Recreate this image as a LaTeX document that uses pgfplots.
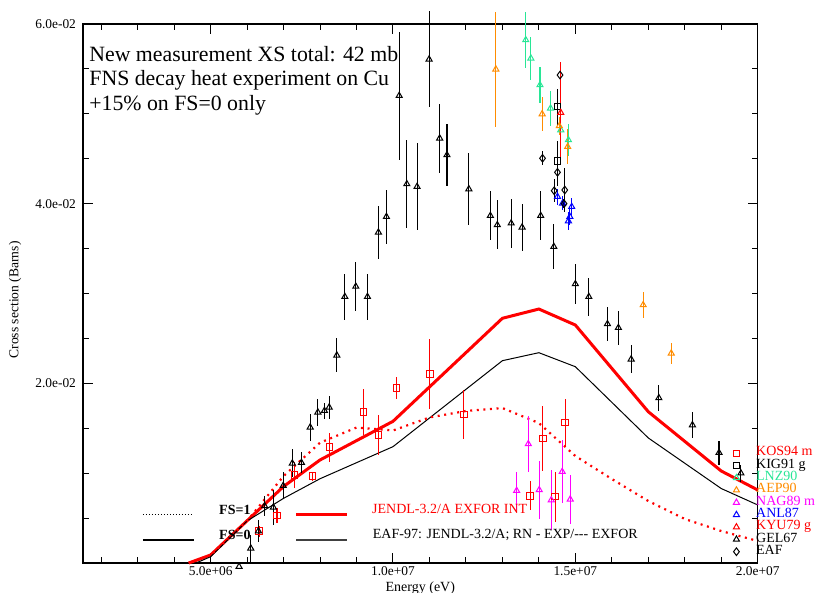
\documentclass[border=0pt]{standalone}
\usepackage{pgfplots}
\pgfplotsset{compat=1.18}
\usepackage{fontspec}
\setmainfont{Liberation Serif}
\definecolor{lnz}{RGB}{40,230,150}
\definecolor{aep}{RGB}{255,140,0}
\definecolor{nag}{RGB}{255,0,255}
\definecolor{anl}{RGB}{0,0,255}
\begin{document}
\begin{tikzpicture}
\pgfplotsset{
  legmark/.style={legend image code/.code={\draw[##1] plot coordinates {(0cm,0cm)}; \path (0.34cm,0cm);}},
  ebar/.style={error bars/.cd, y dir=both, y explicit, error mark=none, error bar style={line width=0.55pt}},
}
\begin{axis}[
  scale only axis, width=337.35pt, height=269.5pt,
  xmin=1.5e6, xmax=2e7, ymin=0, ymax=0.06,
  clip=false,
  axis line style={line width=0.6pt},
  tick align=inside, major tick length=5pt, minor tick length=3pt,
  every tick/.style={black, line width=0.5pt},
  xtick={5e6,1e7,1.5e7,2e7}, xticklabels={5.0e+06,1.0e+07,1.5e+07,2.0e+07},
  minor xtick={2e6,3e6,4e6,6e6,7e6,8e6,9e6,11e6,12e6,13e6,14e6,16e6,17e6,18e6,19e6},
  ytick={0.02,0.04,0.06}, yticklabels={2.0e-02,4.0e-02,6.0e-02},
  minor ytick={0.005,0.01,0.015,0.025,0.03,0.035,0.045,0.05,0.055},
  ticklabel style={font=\fontsize{6.7}{7}\selectfont},
  xticklabel style={inner sep=1.5pt},
  /pgf/number format/assume math mode=true,
  scaled ticks=false,
  legend cell align=left,
  legend style={at={(rel axis cs:0.9636,0.2149)}, anchor=north west, draw=none, fill=none,
    inner sep=0pt, outer sep=0pt, row sep=0pt,
    font=\fontsize{7}{7}\selectfont,
    nodes={inner sep=0pt, text height=4.4pt, text depth=1.75pt}},
  mark options={solid, line width=0.5pt},
]
\coordinate (LL) at (rel axis cs:0,0);
\coordinate (UR) at (rel axis cs:1,1);

% ---- curves ----
\addplot[forget plot, red, line width=1.5pt] table {
x y
4.4e6 0
5.0e6 0.00089
7.0e6 0.00852
8.0e6 0.01147
1.0e7 0.01577
1.3e7 0.02724
1.4e7 0.02827
1.5e7 0.02649
1.7e7 0.01684
1.9e7 0.01024
2.0e7 0.00813
};
\addplot[forget plot, black, line width=0.5pt] table {
x y
4.6e6 0
5.0e6 0.00070
6.0e6 0.00468
7.0e6 0.00720
8.0e6 0.00938
1.0e7 0.01295
1.3e7 0.02252
1.4e7 0.02341
1.5e7 0.02185
1.7e7 0.01392
1.9e7 0.00829
2.0e7 0.00646
};
\addplot[forget plot, red, line width=1.1pt, dash pattern=on 1pt off 2.3pt] table {
x y
4.4e6 0
5.0e6 0.00089
6.0e6 0.00468
7.0e6 0.00968
8.0e6 0.01339
9.0e6 0.01508
1.0e7 0.01475
1.1e7 0.01620
1.2e7 0.01692
1.3e7 0.01725
1.4e7 0.01558
1.5e7 0.01191
1.6e7 0.00935
1.7e7 0.00690
1.8e7 0.00490
1.9e7 0.00356
2.0e7 0.00245
};

% ---- data sets ----
% KOS94
\addplot[red, only marks, mark=square, mark size=1.65pt, legmark, ebar] table[x=x,y=y,y error=e] {
x y e
6.33e6 0.00353 0.0006
6.82e6 0.00527 0.00083
7.30e6 0.00980 0.0014
7.79e6 0.00968 0.0005
8.26e6 0.01288 0.0016
9.19e6 0.01681 0.0026
9.60e6 0.01422 0.0022
10.10e6 0.01948 0.0012
11.01e6 0.02107 0.0039
11.94e6 0.01655 0.0027
13.76e6 0.00749 0.0016
14.11e6 0.01388 0.0036
14.45e6 0.00738 0.0028
14.72e6 0.01566 0.0026
};
\addlegendentry{\textcolor{red}{KOS94 m}}
% KIG91
\addplot[black, only marks, mark=square, mark size=1.65pt, legmark, ebar] table[x=x,y=y,y error=e] {
x y e
14.51e6 0.05080 0.0020
14.51e6 0.04475 0.0022
};
\addlegendentry{KIG91 g}
% LNZ90
\addplot[lnz, only marks, mark=triangle, mark size=1.75pt, legmark, ebar] table[x=x,y=y,y error=e] {
x y e
13.64e6 0.05822 0.00315
13.78e6 0.05618 0.00241
14.03e6 0.05321 0.00195
14.32e6 0.05062 0.00197
14.60e6 0.04820 0.0023
14.81e6 0.04709 0.0018
};
\addlegendentry{\textcolor{lnz}{LNZ90}}
% AEP90
\addplot[aep, only marks, mark=triangle, mark size=1.75pt, legmark, ebar] table[x=x,y=y,y error=e] {
x y e
12.82e6 0.05496 0.0064
14.09e6 0.04998 0.00186
14.56e6 0.04865 0.0010
14.79e6 0.04634 0.00195
16.86e6 0.02872 0.0014
17.63e6 0.02334 0.0012
};
\addlegendentry{\textcolor{aep}{AEP90}}
% NAG89
\addplot[nag, only marks, mark=triangle, mark size=1.75pt, legmark, ebar] table[x=x,y=y,y error=e] {
x y e
13.39e6 0.00805 0.0021
13.71e6 0.01325 0.0031
14.01e6 0.00813 0.0032
14.34e6 0.00701 0.0033
14.64e6 0.01016 0.0035
14.86e6 0.00709 0.0027
};
\addlegendentry{\textcolor{nag}{NAG89 m}}
% ANL87
\addplot[anl, only marks, mark=triangle, mark size=1.75pt, legmark, ebar] table[x=x,y=y,y error=e] {
x y e
14.51e6 0.04078 0.0009
14.65e6 0.04004 0.0008
14.90e6 0.03966 0.0010
14.85e6 0.03855 0.0009
14.81e6 0.03807 0.0010
};
\addlegendentry{\textcolor{anl}{ANL87}}
% KYU79
\addplot[red, only marks, mark=triangle, mark size=1.75pt, legmark, ebar] table[x=x,y=y,y error=e] {
x y e
14.60e6 0.05013 0.0056
};
\addlegendentry{\textcolor{red}{KYU79 g}}
% GEL67
\addplot[black, only marks, mark=triangle, mark size=1.75pt, legmark, ebar] table[x=x,y=y,y error=e] {
x y e
5.78e6 -0.0004 0
6.10e6 0.00164 0.0015
6.31e6 0.00356 0.0012
6.48e6 0.00635 0.0011
6.72e6 0.00620 0.00195
6.99e6 0.00860 0.00148
7.24e6 0.01110 0.00156
7.49e6 0.01117 0.00117
7.73e6 0.01511 0.0015
7.94e6 0.01678 0.0015
8.12e6 0.01695 0.0009
8.25e6 0.01733 0.00126
8.46e6 0.02312 0.0019
8.68e6 0.02964 0.00256
8.98e6 0.03078 0.00273
9.30e6 0.02964 0.00256
9.60e6 0.03681 0.00295
9.82e6 0.03855 0.0030
10.17e6 0.05202 0.00712
10.38e6 0.04219 0.0049
10.66e6 0.04189 0.00484
10.99e6 0.05607 0.00535
11.28e6 0.04728 0.00384
11.48e6 0.04542 0.00345
12.08e6 0.04163 0.00406
12.67e6 0.03866 0.0027
12.86e6 0.03763 0.00273
13.24e6 0.03782 0.0027
13.54e6 0.03737 0.0026
14.05e6 0.03866 0.0027
14.41e6 0.03521 0.0025
15.00e6 0.03106 0.0022
15.37e6 0.02964 0.0021
15.88e6 0.02661 0.0019
16.18e6 0.02619 0.0019
16.53e6 0.02268 0.00156
17.29e6 0.01837 0.00148
18.21e6 0.01536 0.00148
18.94e6 0.01228 0.00134
19.54e6 0.00999 0.00093
};
\addlegendentry{GEL67}
% EAF
\addplot[black, only marks, mark=diamond, mark size=1.9pt, legmark, ebar] table[x=x,y=y,y error=e] {
x y e
14.58e6 0.05432 0
14.10e6 0.04505 0.0008
14.51e6 0.04349 0.0015
14.42e6 0.04144 0.0013
14.71e6 0.04152 0.0024
14.69e6 0.04000 0.0005
};
\addlegendentry{EAF}

% ---- texts ----
\node[anchor=base west, font=\fontsize{10.9}{13}\selectfont, inner sep=0pt] at (rel axis cs:0.0089,0.9300) {New measurement XS total: 42 mb};
\node[anchor=base west, font=\fontsize{10.9}{13}\selectfont, inner sep=0pt] at (rel axis cs:0.0089,0.8850) {FNS decay heat experiment on Cu};
\node[anchor=base west, font=\fontsize{10.9}{13}\selectfont, inner sep=0pt] at (rel axis cs:0.0089,0.8404) {+15\% on FS=0 only};

% bottom legend
\draw[black, line width=0.5pt, dash pattern=on 0.5pt off 1pt] (rel axis cs:0.0889,0.0902) -- (rel axis cs:0.1639,0.0902);
\draw[black, line width=1pt] (rel axis cs:0.0889,0.0423) -- (rel axis cs:0.1639,0.0423);
\draw[red, line width=1.5pt] (rel axis cs:0.3157,0.0902) -- (rel axis cs:0.3908,0.0902);
\draw[black!75, line width=0.7pt] (rel axis cs:0.3157,0.0423) -- (rel axis cs:0.3908,0.0423);
\node[anchor=west, inner sep=0pt, font=\fontsize{7}{8}\selectfont\bfseries] at (rel axis cs:0.2013,0.0983) {FS=1};
\node[anchor=west, inner sep=0pt, font=\fontsize{7}{8}\selectfont\bfseries] at (rel axis cs:0.2013,0.0520) {FS=0};
\node[anchor=west, inner sep=0pt, font=\fontsize{7}{8}\selectfont, text=red] at (rel axis cs:0.4280,0.1002) {JENDL-3.2/A EXFOR INT};
\node[anchor=west, inner sep=0pt, font=\fontsize{7}{8}\selectfont] at (rel axis cs:0.4291,0.0520) {EAF-97: JENDL-3.2/A; RN - EXP/-{}-{}- EXFOR};

% axis labels
\node[rotate=90, font=\fontsize{6.8}{8}\selectfont] at (rel axis cs:-0.1008,0.488) {Cross section (Barns)};
\node[font=\fontsize{7}{8}\selectfont, inner sep=0pt] at (rel axis cs:0.5,-0.0470) {Energy (eV)};
\end{axis}
\pgfresetboundingbox
\path[use as bounding box] ([xshift=-41.5pt,yshift=-15pt]LL) rectangle ([xshift=29.15pt,yshift=12pt]UR);
\end{tikzpicture}
\end{document}
